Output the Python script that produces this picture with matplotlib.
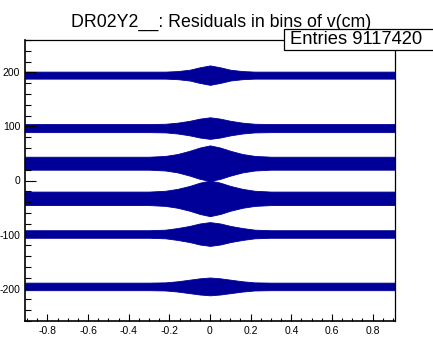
import matplotlib
matplotlib.use("Agg")
import matplotlib.pyplot as plt
from matplotlib.patches import Rectangle
from matplotlib.ticker import MultipleLocator

plt.rcParams['font.family'] = ['Liberation Sans', 'DejaVu Sans']
plt.rcParams['axes.unicode_minus'] = False

title = "DR02Y2__: Residuals in bins of v(cm)"
entries_label = "Entries 9117420"

# x positions where band half-widths were read (cm)
x_prof = [-0.91, -0.6, -0.3, -0.22, -0.16, -0.1, -0.05, 0.0, 0.05, 0.1, 0.16, 0.22, 0.3, 0.6, 0.91]

# band centres (residual units)
band_centres = [195, 97, 32, -33, -99, -196]

# half-widths of each band at x_prof
hw_band1 = [6.5, 6.5, 6.5, 6.5, 7.5, 10, 14.5, 18, 14.5, 10, 7.5, 6.5, 6.5, 6.5, 6.5]
hw_band2 = [7.5, 7.5, 7.5, 8, 10, 13.5, 17.5, 20, 17.5, 13.5, 10, 8, 7.5, 7.5, 7.5]
hw_band3 = [12, 12, 12, 13.5, 17, 23, 29, 33, 29, 23, 17, 13.5, 12, 12, 12]
hw_band4 = [12.5, 12.5, 12.5, 14, 17.5, 23, 29, 33, 29, 23, 17.5, 14, 12.5, 12.5, 12.5]
hw_band5 = [7, 7, 7, 8, 11, 15, 19.5, 22, 19.5, 15, 11, 8, 7, 7, 7]
hw_band6 = [7, 7, 7, 7.5, 9.5, 12.5, 15, 16.5, 15, 12.5, 9.5, 7.5, 7, 7, 7]
half_widths = [hw_band1, hw_band2, hw_band3, hw_band4, hw_band5, hw_band6]

color = '#000099'

W, H = 433, 338
fig = plt.figure(figsize=(W / 100, H / 100), dpi=100)
ax = fig.add_axes([25 / W, 1 - 321 / H, (395 - 25) / W, (321 - 40) / H])

for c, hw in zip(band_centres, half_widths):
    lo = [c - h for h in hw]
    hi = [c + h for h in hw]
    ax.fill_between(x_prof, lo, hi, color=color, linewidth=0.6, edgecolor=color)

ax.set_xlim(-0.91, 0.91)
ax.set_ylim(-260, 260)

ax.xaxis.set_major_locator(MultipleLocator(0.2))
ax.xaxis.set_minor_locator(MultipleLocator(0.05))
ax.yaxis.set_major_locator(MultipleLocator(100))
ax.yaxis.set_minor_locator(MultipleLocator(20))

ax.tick_params(axis='x', which='major', direction='in', length=5, width=0.8, labelsize=7.5, pad=3.5, top=False)
ax.tick_params(axis='x', which='minor', direction='in', length=2.5, width=0.8, top=False)
ax.tick_params(axis='y', which='major', direction='in', length=8, width=0.8, labelsize=7.5, pad=3.5, right=False)
ax.tick_params(axis='y', which='minor', direction='in', length=4, width=0.8, right=False)

def fmt_x(v, pos):
    s = "%.1f" % v
    if s in ("-0.0", "0.0"):
        return "0"
    return s

ax.xaxis.set_major_formatter(matplotlib.ticker.FuncFormatter(fmt_x))

for side in ['left', 'bottom']:
    ax.spines[side].set_linewidth(1.2)
for side in ['top', 'right']:
    ax.spines[side].set_linewidth(0.9)

fig.text(221 / W, 1 - 27 / H, title, ha='center', va='baseline', fontsize=12.8)

box = Rectangle((284 / W, 1 - 50 / H), 160 / W, 21 / H, transform=fig.transFigure,
                facecolor='white', edgecolor='black', linewidth=0.9, zorder=10)
fig.add_artist(box)
fig.text(290 / W, 1 - 44.5 / H, entries_label, ha='left', va='baseline', fontsize=13.2, zorder=11)

fig.savefig('out.png', dpi=100)
